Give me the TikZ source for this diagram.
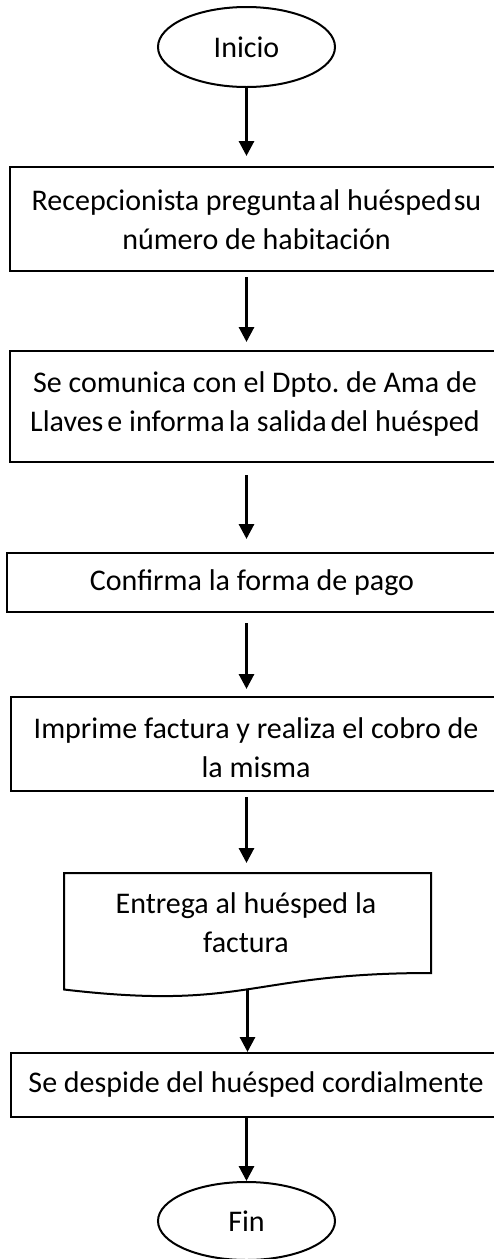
\documentclass[tikz,border=0pt]{standalone}
\usepackage{fontspec}
\setmainfont{Carlito}
\frenchspacing
\usetikzlibrary{shapes.geometric,arrows.meta}
\begin{document}
\begin{tikzpicture}[x=1pt,y=-1pt,
  every node/.style={font=\fontsize{30}{39}\selectfont},
  terminal/.style={draw, line width=2pt, ellipse, minimum width=177pt, minimum height=80pt, inner sep=0pt},
  stepbox/.style={rectangle, inner sep=0pt, outer sep=0pt, anchor=north west},
  boxline/.style={line width=2pt, line join=miter},
  label/.style={align=center, inner sep=0pt},
  arr/.style={line width=3pt, -{Triangle[width=15pt,length=15pt]}}
]
\useasboundingbox (0,0) rectangle (494,1259);
\clip (0,0) rectangle (494,1259);

% terminals
\node[terminal] (inicio) at (246.5,47) {Inicio};
\node[terminal, minimum height=78pt] (fin) at (246.5,1221) {Fin};

% process steps: the right side runs off the page, so only three sides are drawn
\node[stepbox, minimum width=490pt, minimum height=104pt] (recep) at (10,167) {};
\node[stepbox, minimum width=490pt, minimum height=111pt] (comunica) at (10,351) {};
\node[stepbox, minimum width=493pt, minimum height=59pt] (confirma) at (7,553) {};
\node[stepbox, minimum width=489pt, minimum height=94pt] (imprime) at (11,697) {};
\node[stepbox, minimum width=489pt, minimum height=64pt] (despide) at (11,1053) {};
\foreach \b in {recep,comunica,confirma,imprime,despide}
  \draw[boxline] (\b.north east) -- (\b.north west) -- (\b.south west) -- (\b.south east);

\node[label] (recept) at (256.5,220)
  {Recepcionista pregunta\hspace{3pt}al huésped\hspace{2pt}su\\número de habitación};
\node[label] (comunicat) at (255,404)
  {Se comunica con el Dpto. de Ama de\\Llaves\hspace{4pt}e informa\hspace{4pt}la salida\hspace{4pt}del huésped};
\node[label] (confirmat) at (252,583) {Confirma la forma de pago};
\node[label] (imprimet) at (256,748)
  {Imprime factura y realiza el cobro de\\la misma};
\node[label] (despidet) at (256,1084) {Se despide del huésped cordialmente};

% document shape with wavy bottom
\draw[line width=2pt, line join=miter] (64,873) -- (431,873) -- (431,973)
  .. controls (247.5,973) and (247.5,1011) .. (64,989.5) -- cycle;
\node[label] (entrega) at (246,923) {Entrega al huésped la\\factura};
\coordinate (doctop) at (246.5,873);
\coordinate (docbot) at (247.5,989.3);

% connectors
\draw[arr, shorten >=11pt] (inicio.south) -- (inicio.south |- recep.north);
\draw[arr, shorten <=6pt, shorten >=9pt] (inicio.south |- recep.south) -- (inicio.south |- comunica.north);
\draw[arr, shorten <=13pt, shorten >=14pt] (inicio.south |- comunica.south) -- (inicio.south |- confirma.north);
\draw[arr, shorten <=11pt, shorten >=8pt] (inicio.south |- confirma.south) -- (inicio.south |- imprime.north);
\draw[arr, shorten <=6pt, shorten >=10pt] (inicio.south |- imprime.south) -- (doctop);
\draw[arr, shorten >=1pt] (docbot) -- (docbot |- despide.north);
\draw[arr] (inicio.south |- despide.south) -- (fin.north);
\end{tikzpicture}
\end{document}
